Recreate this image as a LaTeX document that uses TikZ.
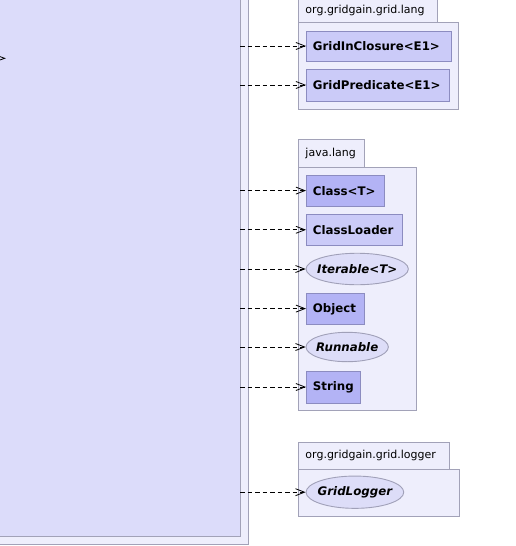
\documentclass[tikz,border=0pt]{standalone}
\usepackage{fontspec}
\setmainfont{DejaVu Sans}
\usetikzlibrary{arrows.meta,shapes.geometric}
\definecolor{pkgfill}{HTML}{EEEEFC}
\definecolor{pkgline}{HTML}{A2A2B8}
\definecolor{mainfill}{HTML}{DCDCFA}
\definecolor{clsdark}{HTML}{B3B3F5}
\definecolor{clslight}{HTML}{CBCBF8}
\definecolor{clsline}{HTML}{8C8CC0}
\definecolor{ellfill}{HTML}{DDDDF8}
\definecolor{ellline}{HTML}{A0A0B8}
\tikzset{
  pkgbox/.style={draw=pkgline, fill=pkgfill, line width=0.9pt},
  pkgtab/.style={draw=pkgline, fill=pkgfill, line width=0.9pt, anchor=north west,
    inner xsep=7pt, inner ysep=0pt, align=left, font=\fontsize{11}{13}\selectfont},
  clsbox/.style={draw=clsline, line width=0.9pt, anchor=north west, inner xsep=6.5pt, inner ysep=0pt,
    align=left, font=\bfseries\fontsize{11.8}{13}\selectfont},
  ifbox/.style={ellipse, draw=ellline, fill=ellfill, line width=0.9pt, inner sep=0pt},
  iflabel/.style={label={[font=\bfseries\itshape\fontsize{11.8}{13}\selectfont, inner sep=0pt]center:#1}},
  dep/.style={dash pattern=on 4.5pt off 3pt, line width=0.8pt,
    -{Straight Barb[length=9pt,width=7pt,line width=0.8pt]}}
}
\begin{document}
\begin{tikzpicture}[x=1pt,y=-1pt]
\useasboundingbox (0,0) rectangle (516,546);
% main class frame
\draw[pkgbox] (-2,-2) rectangle (248.5,544.5);
\draw[draw=pkgline, fill=mainfill, line width=0.9pt] (-2,-2) rectangle (240,536);
\draw[line width=0.8pt] (-5,54.8) -- (4.7,58.3) -- (-5,61.8);
% package org.gridgain.grid.lang
\node[pkgtab, text width=125pt, minimum height=23pt] (tablang) at (298,-1) {org.gridgain.grid.lang};
\draw[pkgbox] (298,22.7) rectangle (458.7,109) node[midway, inner sep=0pt] (pkglang) {};
\node[clsbox, fill=clslight, text width=131.7pt, minimum height=30.6pt] (c1) at (306,30.7) {GridInClosure<E1>};
\node[clsbox, fill=clslight, text width=130.3pt, minimum height=31.4pt] (c2) at (306,69.3) {GridPredicate<E1>};
% package java.lang
\node[pkgtab, text width=52.3pt, minimum height=28pt] (tabjava) at (298,139.3) {java.lang};
\draw[pkgbox] (298,167.3) rectangle (416,410.7) node[midway, inner sep=0pt] (pkgjava) {};
\node[clsbox, fill=clsdark, text width=65.3pt, minimum height=31.3pt] (c3) at (306,175) {Class<T>};
\node[clsbox, fill=clslight, text width=83.3pt, minimum height=31pt] (c4) at (306,214.3) {ClassLoader};
\node[ifbox, minimum width=102.3pt, minimum height=31.5pt, iflabel={Iterable<T>}] (c5) at (357.2,269) {};
\node[clsbox, fill=clsdark, text width=45.3pt, minimum height=30.7pt] (c6) at (306,293.3) {Object};
\node[ifbox, minimum width=82.3pt, minimum height=29.4pt, iflabel={Runnable}] (c7) at (347.2,347) {};
\node[clsbox, fill=clsdark, text width=41.3pt, minimum height=32pt] (c8) at (306,371) {String};
% package org.gridgain.grid.logger
\node[pkgtab, text width=137pt, minimum height=27.6pt] (tablog) at (298,441.7) {org.gridgain.grid.logger};
\draw[pkgbox] (298,469.3) rectangle (459.3,516) node[midway, inner sep=0pt] (pkglog) {};
\node[ifbox, minimum width=97.7pt, minimum height=32.3pt, iflabel={GridLogger}] (c9) at (354.9,492.2) {};
% connectors
\coordinate (s1) at (240,46);
\coordinate (s2) at (240,85);
\coordinate (s3) at (240,190.6);
\coordinate (s4) at (240,229.8);
\coordinate (s5) at (240,269);
\coordinate (s6) at (240,308.6);
\coordinate (s7) at (240,347);
\coordinate (s8) at (240,387);
\coordinate (s9) at (240,492.2);
\draw[dep] (s1) -- (s1 -| c1.west);
\draw[dep] (s2) -- (s2 -| c2.west);
\draw[dep] (s3) -- (s3 -| c3.west);
\draw[dep] (s4) -- (s4 -| c4.west);
\draw[dep] (s5) -- (c5.west);
\draw[dep] (s6) -- (s6 -| c6.west);
\draw[dep] (s7) -- (c7.west);
\draw[dep] (s8) -- (s8 -| c8.west);
\draw[dep] (s9) -- (c9.west);
\end{tikzpicture}
\end{document}
